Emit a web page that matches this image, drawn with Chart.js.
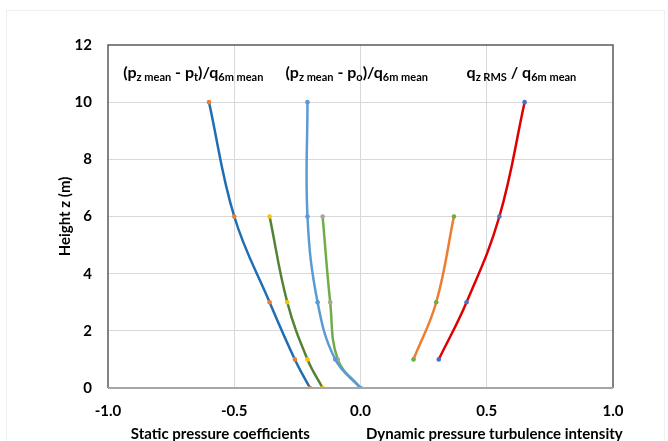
<!DOCTYPE html>
<html>
<head>
<meta charset="utf-8">
<script src="https://cdn.jsdelivr.net/npm/chart.js@4.4.1/dist/chart.umd.min.js"></script>
<style>
    html, body { margin: 0; padding: 0; background: #fff; }
</style>
</head>
<body>
<canvas id="chart" width="668" height="441"></canvas>
<script>
// heights (m) for each series
const heightsFull = [10, 6, 3, 1, 0];
const heightsLow = [6, 3, 1, 0];
const heightsTop = [10, 6, 3, 1];
const heightsMid = [6, 3, 1];

// static pressure coefficients
const ptMeanA = [-0.60, -0.50, -0.36, -0.26, -0.20];
const ptMeanB = [-0.36, -0.29, -0.21, -0.15];
const poMeanA = [-0.21, -0.21, -0.17, -0.10, 0.00];
const poMeanB = [-0.15, -0.12, -0.09, 0.00];

// dynamic pressure turbulence intensity
const rmsB = [0.37, 0.30, 0.21];
const rmsA = [0.65, 0.55, 0.42, 0.31];

// annotation text (parts: main / subscript)
const labelX = [-0.94, -0.297, 0.42];
const labelY = 10.85;
const labelParts = [
    [['(p', 0], ['z mean', 1], [' - p', 0], ['t', 1], [')/q', 0], ['6m mean', 1]],
    [['(p', 0], ['z mean', 1], [' - p', 0], ['o', 1], [')/q', 0], ['6m mean', 1]],
    [['q', 0], ['z RMS', 1], [' / q', 0], ['6m mean', 1]]
];
const xTitles = ['Static pressure coefficients', 'Dynamic pressure turbulence intensity'];
const xTitlePos = [-0.555, 0.53];

const FONT = 'Lato';

function pts(xs, ys) {
    return xs.map((x, i) => ({ x: x, y: ys[i] }));
}

function series(data, line, marker) {
    return {
        data: data,
        showLine: true,
        borderColor: line,
        borderWidth: 2.5,
        backgroundColor: marker,
        pointBackgroundColor: marker,
        pointBorderColor: marker,
        pointBorderWidth: 0,
        pointRadius: 2.3,
        tension: 0.4
    };
}

const frame = {
    id: 'frame',
    afterDatasetsDraw(chart) {
        const ctx = chart.ctx;
        const a = chart.chartArea;
        ctx.save();
        ctx.strokeStyle = '#5a5a5a';
        ctx.lineWidth = 1.5;
        ctx.beginPath();
        ctx.moveTo(a.left, a.bottom);
        ctx.lineTo(a.left, a.top);
        ctx.lineTo(a.right, a.top);
        ctx.lineTo(a.right, a.bottom);
        ctx.stroke();
        ctx.strokeStyle = '#a6a6a6';
        ctx.lineWidth = 2;
        ctx.beginPath();
        ctx.moveTo(a.left, a.bottom);
        ctx.lineTo(a.right, a.bottom);
        ctx.stroke();
        ctx.restore();
    },
    afterDraw(chart) {
        const ctx = chart.ctx;
        const xs = chart.scales.x;
        const ys = chart.scales.y;
        ctx.save();
        ctx.fillStyle = '#000';
        ctx.textBaseline = 'alphabetic';
        ctx.textAlign = 'left';
        labelParts.forEach((parts, k) => {
            let cx = xs.getPixelForValue(labelX[k]);
            const by = ys.getPixelForValue(labelY);
            parts.forEach(p => {
                ctx.font = p[1] ? 'bold 11px ' + FONT : 'bold 16px ' + FONT;
                ctx.fillText(p[0], cx, p[1] ? by + 3 : by);
                cx += ctx.measureText(p[0]).width;
            });
        });
        ctx.font = 'bold 15px ' + FONT;
        ctx.textAlign = 'center';
        xTitles.forEach((t, k) => {
            ctx.fillText(t, xs.getPixelForValue(xTitlePos[k]), 439);
        });
        // faint outer border
        ctx.strokeStyle = '#f0f0f0';
        ctx.lineWidth = 1;
        ctx.strokeRect(6.5, 10.5, 658, 440);
        ctx.restore();
    }
};

new Chart(document.getElementById('chart'), {
    type: 'scatter',
    data: {
        datasets: [
            series(pts(ptMeanA, heightsFull), '#1f6eb4', '#ed7d31'),
            series(pts(ptMeanB, heightsLow), '#548235', '#ffc000'),
            series(pts(poMeanA, heightsFull), '#5b9bd5', '#5b9bd5'),
            series(pts(poMeanB, heightsLow), '#70ad47', '#a5a5a5'),
            series(pts(rmsB, heightsMid), '#ed7d31', '#70ad47'),
            series(pts(rmsA, heightsTop), '#e00000', '#4472c4')
        ]
    },
    options: {
        responsive: false,
        animation: false,
        layout: { padding: { left: 0, top: 45, right: 55, bottom: 0 } },
        plugins: {
            legend: { display: false },
            tooltip: { enabled: false }
        },
        scales: {
            x: {
                type: 'linear',
                min: -1,
                max: 1,
                afterFit: s => { s.height = 53; },
                border: { display: false },
                grid: {
                    color: c => (c.tick.value > -1 && c.tick.value < 1) ? '#d9d9d9' : 'rgba(0,0,0,0)',
                    drawTicks: false
                },
                ticks: {
                    stepSize: 0.5,
                    padding: 14,
                    color: '#000',
                    font: { family: FONT, size: 15, weight: 'bold' },
                    callback: v => v.toFixed(1)
                }
            },
            y: {
                min: 0,
                max: 12,
                afterFit: s => { s.width = 108; },
                border: { display: false },
                grid: {
                    color: c => (c.tick.value > 0 && c.tick.value < 12) ? '#d9d9d9' : 'rgba(0,0,0,0)',
                    drawTicks: false
                },
                ticks: {
                    stepSize: 2,
                    padding: 16,
                    color: '#000',
                    font: { family: FONT, size: 15, weight: 'bold' }
                },
                title: {
                    display: true,
                    text: 'Height z (m)',
                    color: '#000',
                    padding: { top: 56, bottom: 0 },
                    font: { family: FONT, size: 15, weight: 'bold' }
                }
            }
        }
    },
    plugins: [frame]
});
</script>
</body>
</html>
